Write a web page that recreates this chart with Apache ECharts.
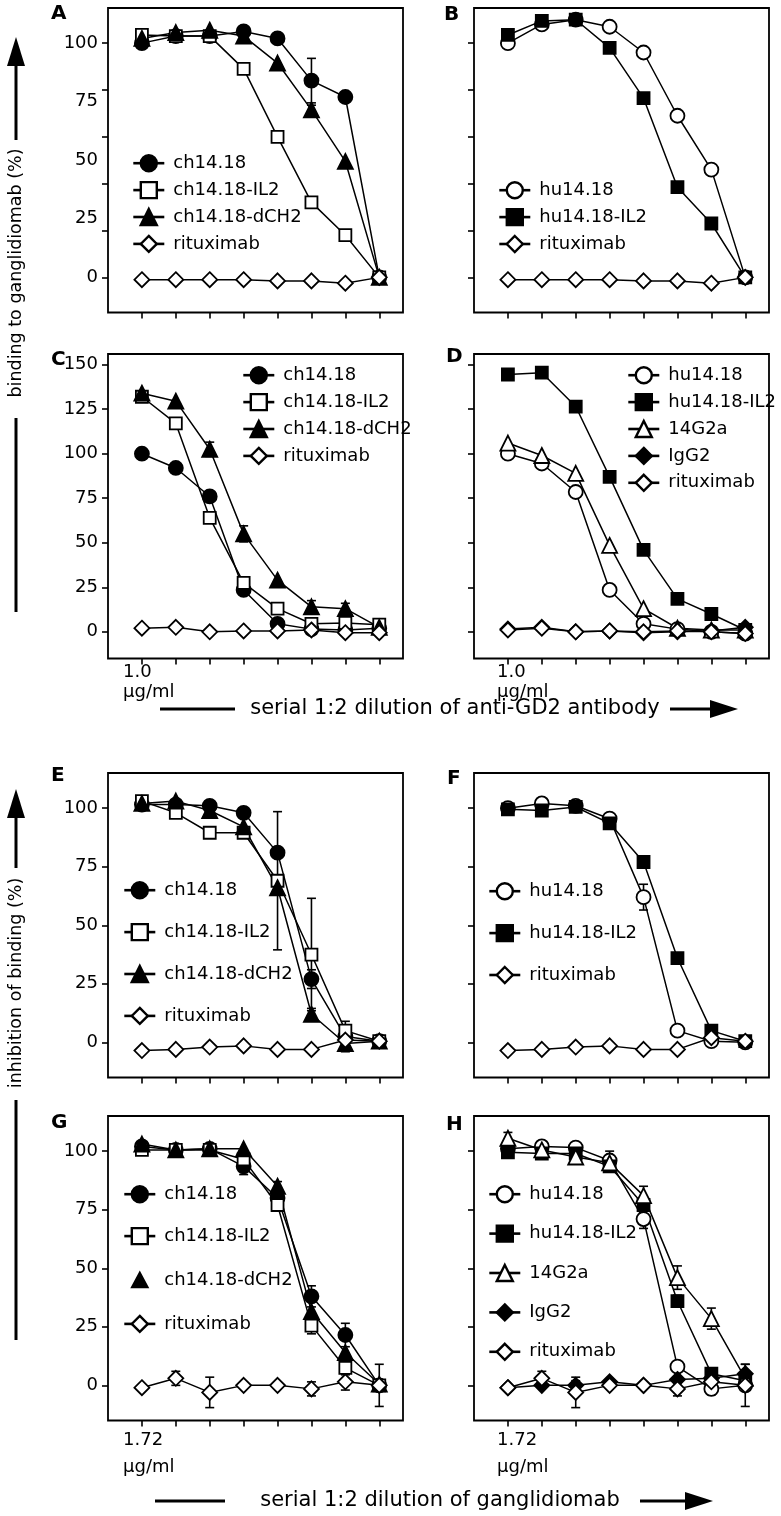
<!DOCTYPE html>
<html><head><meta charset="utf-8">
<script src="https://cdn.jsdelivr.net/npm/echarts@6/dist/echarts.min.js"></script>
<style>html,body{margin:0;padding:0;background:#fff}#c{width:781px;height:1516px}</style>
</head><body><div id="c"></div>
<script>
// ---------- DATA ----------
const xIdx = [0, 1, 2, 3, 4, 5, 6, 7];
const concLabelTop = '1.0';
const concLabelBottom = '1.72';
const concUnit = 'μg/ml';

// Panel A
const A_ch1418 = [100, 103, 103, 105, 102, 84, 77, 0];
const A_IL2    = [103.5, 103, 103, 89, 60, 32, 18, 0];
const A_dCH2   = [102, 104.5, 105.5, 103, 91.5, 71.5, 49.5, 0];
const A_ritux  = [-1, -1, -1, -1, -1.5, -1.5, -2.5, 0];
const A_ch1418_err = [null, null, null, null, null, 9.5, 1.5, null];
const A_dCH2_err   = [null, null, null, null, null, 2, null, null];
// Panel B
const B_hu     = [100, 108, 110, 107, 96, 69, 46, 0];
const B_IL2    = [103.5, 109.5, 110, 98, 76.5, 38.5, 23, 0];
const B_ritux  = [-1, -1, -1, -1, -1.5, -1.5, -2.5, 0];
// Panel C
const C_ch1418 = [100, 92, 76, 23.5, 4.5, 1.5, 1, 2];
const C_IL2    = [132, 117, 64, 27.5, 13, 4.5, 5, 4];
const C_dCH2   = [134, 129.5, 102.5, 55, 29, 14, 13, 2.5];
const C_ritux  = [2, 2.5, 0, 0.5, 0.5, 1, -0.5, -0.5];
const C_ch1418_err = [3, null, null, null, null, null, null, null];
const C_dCH2_err   = [null, null, 4, 4.5, null, 3.5, 3, null];
// Panel D
const D_hu     = [100, 94.5, 78.5, 23.5, 4.5, 1.5, 0, -1];
const D_IL2    = [144.5, 145.5, 126.5, 87, 46, 18.5, 10, 1];
const D_14G2a  = [106, 99, 89, 48.5, 13, 2, 1, 1];
const D_IgG2   = [1.5, 2.5, 0, 0.5, -0.5, 0, 0.5, 2.5];
const D_ritux  = [1, 2, 0, 0.5, 0, 0.5, 0, -1];
const D_IL2_err = [null, null, null, null, null, 2, null, null];
// Panel E
const E_ch1418 = [101.5, 101.5, 101, 98, 81, 27, 2.5, 0.5];
const E_IL2    = [103, 98, 89.5, 89.5, 69, 37.5, 5, 0.5];
const E_dCH2   = [102, 103, 99, 92, 66, 12, -0.5, 0.5];
const E_ritux  = [-3.5, -3, -2, -1.5, -3, -3, 1, 0.5];
const E_ch1418_err = [null, null, null, null, null, 4, null, null];
const E_IL2_err    = [null, 2, null, null, 29.5, 24, 4, null];
const E_dCH2_err   = [null, null, null, null, null, 2.5, 3.5, null];
// Panel F
const F_hu     = [100, 102, 101, 95.5, 62, 5, 0.5, 0];
const F_IL2    = [99.5, 99, 100.5, 93.5, 77, 36, 5, 0.5];
const F_ritux  = [-3.5, -3, -2, -1.5, -3, -3, 2, 0.5];
const F_hu_err    = [null, null, null, null, 5.5, null, null, null];
const F_IL2_err   = [null, null, null, null, null, 2, null, null];
const F_ritux_err = [null, null, null, null, null, null, 3.5, null];
// Panel G
const G_ch1418 = [102, 100.5, 101, 93.5, 80, 38, 21.5, 0];
const G_IL2    = [100.5, 100.5, 100.5, 96.5, 77, 25.5, 7.5, 0];
const G_dCH2   = [103, 100.5, 101, 101, 85, 31.5, 14, 0.5];
const G_ritux  = [-1, 3, -3, 0, 0, -1.5, 1.5, 0];
const G_ch1418_err = [null, null, null, 3.5, null, 4.5, 5, null];
const G_IL2_err    = [null, null, null, null, 2.5, 3.5, 3, null];
const G_dCH2_err   = [null, null, null, null, 2, null, null, null];
const G_ritux_err  = [null, 3, 6.5, null, null, 3, 3.5, 9];
// Panel H
const H_hu     = [101, 102, 101.5, 96, 71, 8, -1.5, 0];
const H_IL2    = [99.5, 99, 99, 93.5, 77, 36, 5, 2];
const H_14G2a  = [105.5, 100.5, 97.5, 95, 81, 46, 28.5, 3];
const H_IgG2   = [-1, 0, 0, 1.5, 0, 2.5, 3, 5];
const H_ritux  = [-1, 3, -3, 0, 0, -1.5, 1.5, 0];
const H_hu_err    = [null, null, null, 4, 4, null, 2.5, null];
const H_IL2_err   = [null, null, null, null, null, 2.5, null, null];
const H_14G2a_err = [2.5, null, 3, null, 4, 5, 4.5, null];
const H_IgG2_err  = [null, null, 2, null, null, null, null, 4];
const H_ritux_err = [null, 3, 6.5, null, null, 3, 3.5, 9];

const ticks20 = [0, 20, 40, 60, 80, 100];
const labels25 = [0, 25, 50, 75, 100];
const labels150 = [0, 25, 50, 75, 100, 125, 150];

// ---------- STYLE ----------
const FONT = "'DejaVu Sans', sans-serif";
const STY = {
  'ch14.18':      { symbol: 'circle',   size: 14, fill: '#000' },
  'ch14.18-IL2':  { symbol: 'rect',     size: 12, fill: '#fff' },
  'ch14.18-dCH2': { symbol: 'triangle', size: 15, fill: '#000' },
  'rituximab':    { symbol: 'diamond',  size: 15, fill: '#fff' },
  'hu14.18':      { symbol: 'circle',   size: 14, fill: '#fff' },
  'hu14.18-IL2':  { symbol: 'rect',     size: 12, fill: '#000' },
  '14G2a':        { symbol: 'triangle', size: 15, fill: '#fff' },
  'IgG2':         { symbol: 'diamond',  size: 15, fill: '#000' }
};
// a bare triangle icon (no line), padded to the 31x20 legend icon box
const BARE_TRIANGLE = 'path://M0,0M31,20M15.5,3L23,17L8,17Z';

const panels = [
  { grid: { left: 108, top: 8 },   yMax: 115, yTicks: ticks20, yLabels: labels25, showLab: true,
    series: [['ch14.18', A_ch1418, A_ch1418_err], ['ch14.18-IL2', A_IL2, null], ['ch14.18-dCH2', A_dCH2, A_dCH2_err], ['rituximab', A_ritux, null]],
    legend: { left: 127, top: 149, gap: 8.5 } },
  { grid: { left: 474, top: 8 },   yMax: 115, yTicks: ticks20, yLabels: labels25, showLab: false,
    series: [['hu14.18', B_hu, null], ['hu14.18-IL2', B_IL2, null], ['rituximab', B_ritux, null]],
    legend: { left: 493, top: 176, gap: 8.5 } },
  { grid: { left: 108, top: 354 }, yMax: 156, yTicks: labels150, yLabels: labels150, showLab: true,
    series: [['ch14.18', C_ch1418, C_ch1418_err], ['ch14.18-IL2', C_IL2, null], ['ch14.18-dCH2', C_dCH2, C_dCH2_err], ['rituximab', C_ritux, null]],
    legend: { left: 237, top: 361, gap: 8.5 } },
  { grid: { left: 474, top: 354 }, yMax: 156, yTicks: labels150, yLabels: labels150, showLab: false,
    series: [['hu14.18', D_hu, null], ['hu14.18-IL2', D_IL2, D_IL2_err], ['14G2a', D_14G2a, null], ['IgG2', D_IgG2, null], ['rituximab', D_ritux, null]],
    legend: { left: 622, top: 361, gap: 8.5 } },
  { grid: { left: 108, top: 773 }, yMax: 115, yTicks: labels25, yLabels: labels25, showLab: true,
    series: [['ch14.18', E_ch1418, E_ch1418_err], ['ch14.18-IL2', E_IL2, E_IL2_err], ['ch14.18-dCH2', E_dCH2, E_dCH2_err], ['rituximab', E_ritux, null]],
    legend: { left: 118, top: 876, gap: 23.5 } },
  { grid: { left: 474, top: 773 }, yMax: 115, yTicks: labels25, yLabels: labels25, showLab: false,
    series: [['hu14.18', F_hu, F_hu_err], ['hu14.18-IL2', F_IL2, F_IL2_err], ['rituximab', F_ritux, F_ritux_err]],
    legend: { left: 483, top: 877, gap: 23.5 } },
  { grid: { left: 108, top: 1116 }, yMax: 115, yTicks: labels25, yLabels: labels25, showLab: true,
    series: [['ch14.18', G_ch1418, G_ch1418_err], ['ch14.18-IL2', G_IL2, G_IL2_err], ['ch14.18-dCH2', G_dCH2, G_dCH2_err], ['rituximab', G_ritux, G_ritux_err]],
    legend: { left: 118, top: 1180, gap: 23.5, bareTriangle: true } },
  { grid: { left: 474, top: 1116 }, yMax: 115, yTicks: labels25, yLabels: labels25, showLab: false,
    series: [['hu14.18', H_hu, H_hu_err], ['hu14.18-IL2', H_IL2, H_IL2_err], ['14G2a', H_14G2a, H_14G2a_err], ['IgG2', H_IgG2, H_IgG2_err], ['rituximab', H_ritux, H_ritux_err]],
    legend: { left: 483, top: 1180, gap: 21 } }
];

const grids = [], xAxes = [], yAxes = [], series = [], legends = [];
panels.forEach((p, gi) => {
  grids.push({ left: p.grid.left, top: p.grid.top, width: 295, height: 304.5, show: true,
    borderColor: '#000', borderWidth: 1.8, backgroundColor: 'transparent' });
  xAxes.push({ type: 'value', gridIndex: gi, min: -1, max: 7.7,
    axisLine: { show: false, onZero: false },
    axisTick: { show: true, customValues: xIdx, length: 6, lineStyle: { color: '#000', width: 1.6 } },
    axisLabel: { show: false }, splitLine: { show: false } });
  yAxes.push({ type: 'value', gridIndex: gi, min: -15, max: p.yMax,
    axisLine: { show: false, onZero: false },
    axisTick: { show: true, customValues: p.yTicks, length: 6, lineStyle: { color: '#000', width: 1.6 } },
    axisLabel: { show: p.showLab, customValues: p.yLabels, color: '#000', fontSize: 18, fontFamily: FONT, margin: 10 },
    splitLine: { show: false } });
  const errRows = [];
  p.series.forEach(([name, vals, errs]) => {
    const s = STY[name];
    series.push({
      type: 'line', name, xAxisIndex: gi, yAxisIndex: gi, z: 3,
      data: xIdx.map((x, i) => [x, vals[i]]),
      symbol: s.symbol, symbolSize: s.size, showAllSymbol: true,
      itemStyle: { color: s.fill, borderColor: '#000', borderWidth: 1.8 },
      lineStyle: { color: '#000', width: 1.5 },
      emphasis: { disabled: true }, silent: true
    });
    if (errs) errs.forEach((e, i) => { if (e != null) errRows.push([xIdx[i], vals[i] - e, vals[i] + e]); });
  });
  if (errRows.length) {
    series.push({
      type: 'custom', xAxisIndex: gi, yAxisIndex: gi, z: 2, silent: true,
      encode: { x: 0, y: [1, 2] }, data: errRows,
      renderItem(params, api) {
        const lo = api.coord([api.value(0), api.value(1)]);
        const hi = api.coord([api.value(0), api.value(2)]);
        const w = 4.5, st = { stroke: '#000', lineWidth: 1.6 };
        return { type: 'group', children: [
          { type: 'line', shape: { x1: lo[0], y1: lo[1], x2: hi[0], y2: hi[1] }, style: st },
          { type: 'line', shape: { x1: lo[0] - w, y1: lo[1], x2: lo[0] + w, y2: lo[1] }, style: st },
          { type: 'line', shape: { x1: hi[0] - w, y1: hi[1], x2: hi[0] + w, y2: hi[1] }, style: st }
        ] };
      }
    });
  }
  legends.push({
    orient: 'vertical', left: p.legend.left, top: p.legend.top, itemGap: p.legend.gap,
    itemWidth: 31, itemHeight: 20, selectedMode: false,
    lineStyle: { width: 2.6 }, itemStyle: { borderWidth: 2.4 },
    textStyle: { fontSize: 18, fontFamily: FONT, color: '#000', padding: [0, 0, 0, 4] },
    data: p.series.map(([n]) => (p.legend.bareTriangle && n === 'ch14.18-dCH2') ? { name: n, icon: BARE_TRIANGLE } : n)
  });
});

// ---------- DECORATION ----------
const TXT = (x, y, text, font, extra) => Object.assign({ type: 'text', x, y, silent: true,
  style: { text, font, fill: '#000', verticalAlign: 'middle' } }, extra || {});
const LINE = (x1, y1, x2, y2) => ({ type: 'line', silent: true, shape: { x1, y1, x2, y2 }, style: { stroke: '#000', lineWidth: 3 } });
const POLY = (pts) => ({ type: 'polygon', silent: true, shape: { points: pts }, style: { fill: '#000' } });
const LF = "bold 20px 'DejaVu Sans', sans-serif";
const TF = "18px 'DejaVu Sans', sans-serif";
const BF = "21px 'DejaVu Sans', sans-serif";
const YF = "17.5px 'DejaVu Sans', sans-serif";
const centered = (t) => { t.style.align = 'center'; return t; };
const vertical = (t) => { t.style.align = 'center'; t.rotation = Math.PI / 2; return t; };

const graphic = [
  TXT(51, 14, 'A', LF), TXT(444, 15, 'B', LF), TXT(51, 360, 'C', LF), TXT(446, 357, 'D', LF),
  TXT(51, 776, 'E', LF), TXT(447, 779, 'F', LF), TXT(51, 1123, 'G', LF), TXT(446, 1125, 'H', LF),
  TXT(123, 672, concLabelTop, TF), TXT(123, 692, concUnit, TF),
  TXT(497, 672, concLabelTop, TF), TXT(497, 692, concUnit, TF),
  TXT(123, 1440, concLabelBottom, TF), TXT(123, 1467, concUnit, TF),
  TXT(497, 1440, concLabelBottom, TF), TXT(497, 1467, concUnit, TF),
  // x titles
  LINE(160, 709, 235, 709), centered(TXT(455, 709, 'serial 1:2 dilution of anti-GD2 antibody', BF)),
  LINE(670, 709, 712, 709), POLY([[738, 709], [710, 700], [710, 718]]),
  LINE(155, 1501, 225, 1501), centered(TXT(440, 1501, 'serial 1:2 dilution of ganglidiomab', BF)),
  LINE(640, 1501, 688, 1501), POLY([[713, 1501], [685, 1492], [685, 1510]]),
  // y titles
  vertical(TXT(16, 273, 'binding to ganglidiomab (%)', YF)),
  LINE(16, 612, 16, 418), LINE(16, 140, 16, 64), POLY([[16, 37], [7, 66], [25, 66]]),
  vertical(TXT(16, 983, 'inhibition of binding (%)', YF)),
  LINE(16, 1340, 16, 1100), LINE(16, 868, 16, 815), POLY([[16, 789], [7, 818], [25, 818]])
];

const chart = echarts.init(document.getElementById('c'), null, { renderer: 'canvas' });
chart.setOption({
  animation: false, backgroundColor: '#fff',
  grid: grids, xAxis: xAxes, yAxis: yAxes, series, legend: legends, graphic
});
</script></body></html>
